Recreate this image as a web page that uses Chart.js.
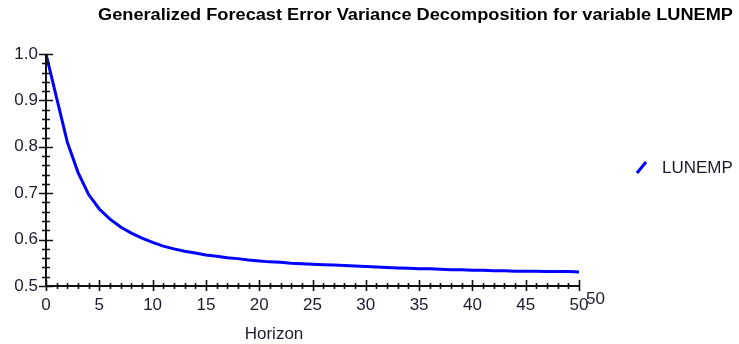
<!DOCTYPE html>
<html>
<head>
<meta charset="utf-8">
<script src="https://cdn.jsdelivr.net/npm/chart.js@4.4.1/dist/chart.umd.min.js"></script>
<style>
  html, body { margin: 0; padding: 0; background: #fff; }
  #wrap { width: 739px; height: 344px; position: relative; }
</style>
</head>
<body>
<div id="wrap"><canvas id="fevd-chart"></canvas></div>
<script>
const horizons = [
  0, 1, 2, 3, 4, 5, 6, 7, 8, 9,
  10, 11, 12, 13, 14, 15, 16, 17, 18, 19,
  20, 21, 22, 23, 24, 25, 26, 27, 28, 29,
  30, 31, 32, 33, 34, 35, 36, 37, 38, 39,
  40, 41, 42, 43, 44, 45, 46, 47, 48, 49, 50,
];
const lunempShare = [
  1.000, 0.905, 0.810, 0.745, 0.697, 0.666, 0.644, 0.627, 0.614, 0.603,
  0.594, 0.586, 0.580, 0.575, 0.571, 0.567, 0.564, 0.561, 0.559, 0.556,
  0.554, 0.552, 0.551, 0.549, 0.548, 0.547, 0.546, 0.545, 0.544, 0.543,
  0.542, 0.541, 0.540, 0.539, 0.538, 0.537, 0.537, 0.536, 0.535, 0.535,
  0.534, 0.534, 0.533, 0.533, 0.532, 0.532, 0.532, 0.531, 0.531, 0.531, 0.530,
];
const yTicks = [0.5, 0.6, 0.7, 0.8, 0.9, 1.0];
const xTicks = [0, 5, 10, 15, 20, 25, 30, 35, 40, 45, 50];
const seriesName = 'LUNEMP';
const chartTitle = 'Generalized Forecast Error Variance Decomposition for variable LUNEMP';
const xTitle = 'Horizon';

const labelFont = '17px "Liberation Sans", Arial, sans-serif';
const textColor = '#1c1c2c';

// axis lines with ticks that cross the axis, title, legend and the stray "50"
const decorPlugin = {
  id: 'decor',
  afterDraw(chart) {
    const { ctx, scales } = chart;
    const xs = scales.x;
    const ys = scales.y;
    const axisX = xs.getPixelForValue(0);
    const axisY = ys.getPixelForValue(0.5);
    ctx.save();
    ctx.strokeStyle = '#111';
    ctx.lineWidth = 2;
    ctx.beginPath();
    ctx.moveTo(axisX, ys.getPixelForValue(1.0));
    ctx.lineTo(axisX, axisY);
    ctx.lineTo(xs.getPixelForValue(50), axisY);
    ctx.stroke();

    ctx.lineWidth = 1.6;
    ctx.beginPath();
    for (let i = 0; i <= 25; i++) {
      const v = 0.5 + i * 0.02;
      const py = Math.round(ys.getPixelForValue(v)) + 0.5;
      const major = i % 5 === 0;
      ctx.moveTo(axisX - (major ? 7 : 4), py);
      ctx.lineTo(axisX + (major ? 7 : 4), py);
    }
    for (let h = 0; h <= 50; h++) {
      const px = Math.round(xs.getPixelForValue(h)) + 0.5;
      const major = h % 5 === 0;
      ctx.moveTo(px, axisY - (major ? 6 : 3));
      ctx.lineTo(px, axisY + (major ? 5 : 3));
    }
    ctx.stroke();

    ctx.fillStyle = textColor;
    ctx.textBaseline = 'middle';
    ctx.textAlign = 'center';
    ctx.font = labelFont;
    ctx.fillText(xTitle, 274, 334);
    ctx.textAlign = 'left';
    ctx.fillText('50', 586, 299);

    // title: bold, stretched to the reference width
    ctx.fillStyle = '#000';
    ctx.font = 'bold 16px "Liberation Sans", Arial, sans-serif';
    ctx.textAlign = 'center';
    const w = ctx.measureText(chartTitle).width;
    ctx.save();
    ctx.translate(415.5, 16);
    ctx.scale(635 / w, 1);
    ctx.fillText(chartTitle, 0, 0);
    ctx.restore();

    ctx.strokeStyle = '#0000ff';
    ctx.lineWidth = 3;
    ctx.beginPath();
    ctx.moveTo(637, 173);
    ctx.lineTo(646, 162);
    ctx.stroke();
    ctx.fillStyle = textColor;
    ctx.font = labelFont;
    ctx.textAlign = 'left';
    ctx.fillText(seriesName, 662, 168);
    ctx.restore();
  },
};

const canvas = document.getElementById('fevd-chart');
new Chart(canvas, {
  type: 'line',
  data: {
    datasets: [
      {
        label: seriesName,
        data: horizons.map((h, i) => ({ x: h, y: lunempShare[i] })),
        borderColor: '#0000ff',
        borderWidth: 3,
        pointRadius: 0,
        tension: 0,
        fill: false,
        clip: false,
      },
    ],
  },
  options: {
    responsive: true,
    maintainAspectRatio: false,
    animation: false,
    layout: { padding: { left: 0, top: 54, right: 160, bottom: 0 } },
    plugins: {
      legend: { display: false },
      tooltip: { enabled: false },
      title: { display: false },
    },
    scales: {
      x: {
        type: 'linear',
        min: 0,
        max: 50,
        grid: { display: false, drawTicks: false },
        border: { display: false },
        afterFit: (scale) => { scale.height = 58; },
        afterBuildTicks: (scale) => { scale.ticks = xTicks.map((v) => ({ value: v })); },
        ticks: {
          padding: 9,
          maxRotation: 0,
          color: textColor,
          font: { family: '"Liberation Sans", Arial, sans-serif', size: 17 },
          callback: (v) => String(v),
        },
      },
      y: {
        min: 0.5,
        max: 1.0,
        grid: { display: false, drawTicks: false },
        border: { display: false },
        afterFit: (scale) => { scale.width = 46; },
        afterBuildTicks: (scale) => { scale.ticks = yTicks.map((v) => ({ value: v })); },
        ticks: {
          padding: 8,
          color: textColor,
          font: { family: '"Liberation Sans", Arial, sans-serif', size: 17 },
          callback: (v) => Number(v).toFixed(1),
        },
      },
    },
  },
  plugins: [decorPlugin],
});
</script>
</body>
</html>
